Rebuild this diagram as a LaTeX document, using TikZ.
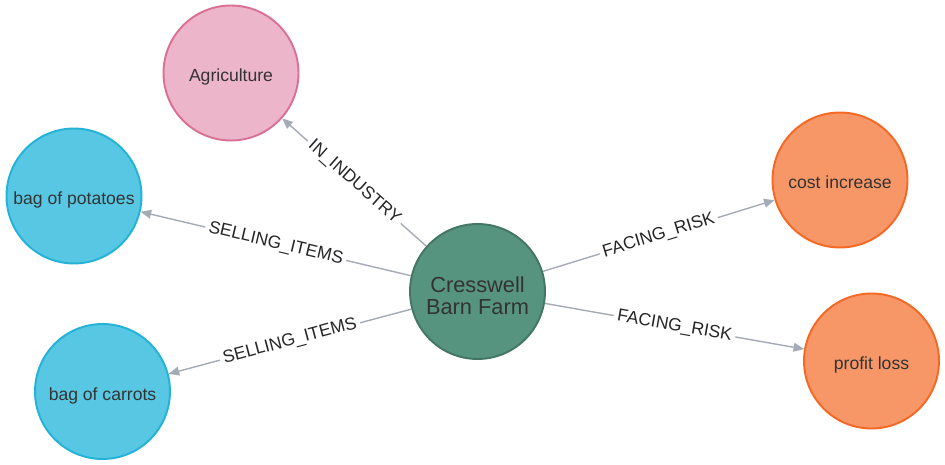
\documentclass[tikz,border=0pt]{standalone}
\usepackage{fontspec}
\setmainfont{Liberation Sans}
\usetikzlibrary{arrows.meta}
\definecolor{farmfill}{HTML}{569480}
\definecolor{farmline}{HTML}{447666}
\definecolor{agrifill}{HTML}{ECB5C9}
\definecolor{agriline}{HTML}{DA7194}
\definecolor{itemfill}{HTML}{57C7E3}
\definecolor{itemline}{HTML}{23B3D7}
\definecolor{riskfill}{HTML}{F79767}
\definecolor{riskline}{HTML}{F36924}
\definecolor{relline}{HTML}{A5ABB6}
\definecolor{textgray}{HTML}{333333}
\tikzset{
	ent/.style={circle, draw, line width=1.1pt, minimum size=2.7cm, inner sep=0pt,
		text=textgray, font=\fontsize{10}{12}\selectfont},
	oneline/.style={ent, text height=10.2pt, text depth=0pt},
	farm/.style={ent, fill=farmfill, draw=farmline, align=center,
		font=\fontsize{12.4}{12.8}\selectfont},
	industry/.style={oneline, fill=agrifill, draw=agriline},
	item/.style={oneline, fill=itemfill, draw=itemline},
	risk/.style={oneline, fill=riskfill, draw=riskline},
	rel/.style={midway, sloped, fill=white, inner sep=2pt, text=black!85,
		font=\fontsize{10}{12}\selectfont}
}
\begin{document}
\begin{tikzpicture}[x=0.02cm, y=-0.02cm, >={Triangle[length=6pt,width=5pt]}]
	\useasboundingbox (0,0) rectangle (945,465);
	\node[farm] (farm) at (477.5,291.5) {\rule{0pt}{13.6pt}Cresswell\\Barn Farm};
	\node[industry] (agri) at (231,73) {Agriculture};
	\node[item] (potatoes) at (74,196) {bag of potatoes};
	\node[item] (carrots) at (102.5,391.5) {bag of carrots};
	\node[risk] (cost) at (840,180) {cost increase};
	\node[risk] (loss) at (871.5,361) {profit loss};
	
	\draw[->, relline, line width=0.8pt]
	(farm) edge node[rel] {IN\_INDUSTRY} (agri)
	(farm) edge node[rel] {SELLING\_ITEMS} (potatoes)
	(farm) edge node[rel] {SELLING\_ITEMS} (carrots)
	(farm) edge node[rel] {FACING\_RISK} (cost)
	(farm) edge node[rel] {FACING\_RISK} (loss);
\end{tikzpicture}
\end{document}
